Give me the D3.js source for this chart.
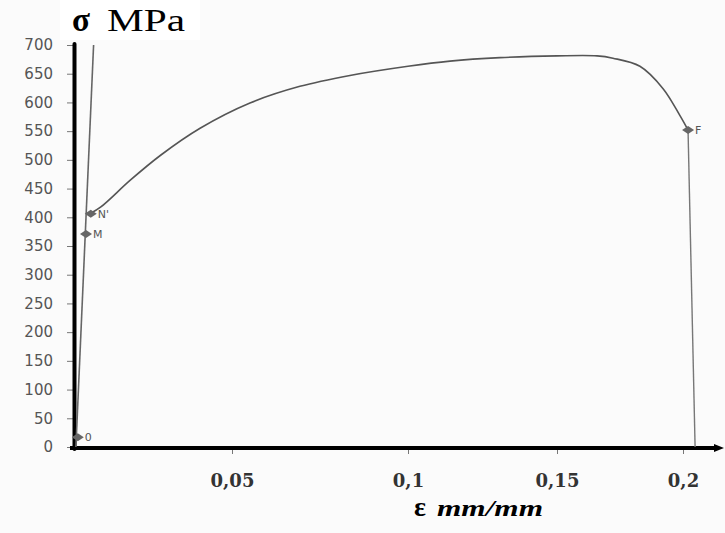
<!DOCTYPE html>
<html>
<head>
<meta charset="utf-8">
<script src="https://cdn.jsdelivr.net/npm/d3@7"></script>
<style>
  body { margin: 0; background: #fbfbfb; }
  svg { display: block; }
</style>
</head>
<body>
<div id="chart"></div>
<script>
// stress (MPa) / strain (mm/mm)
const yTicks = [0, 50, 100, 150, 200, 250, 300, 350, 400, 450, 500, 550, 600, 650, 700]
const xTicks = [0.05, 0.1, 0.15, 0.2]
const xTickLabels = ["0,05", "0,1", "0,15", "0,2"]

const elasticLine = [[0.0006, 0], [0.0062, 700]]

const plasticCurve = [
  [0.0053, 407], [0.0085, 418], [0.0179, 465], [0.0274, 508], [0.0399, 555],
  [0.0551, 599], [0.0693, 628], [0.0835, 647], [0.1, 663], [0.1141, 672],
  [0.1309, 678], [0.15, 681], [0.1659, 681], [0.1722, 677], [0.1829, 663],
  [0.1921, 624], [0.1988, 577], [0.2020, 552]
]

const fractureLine = [[0.2020, 552], [0.2048, 0]]

const markers = [
  {name: "0", strain: 0.0012, stress: 17},
  {name: "M", strain: 0.0038, stress: 371},
  {name: "N'", strain: 0.0053, stress: 406},
  {name: "F", strain: 0.2020, stress: 552}
]

const width = 725, height = 533

const svg = d3.select("#chart").append("svg")
  .attr("width", width)
  .attr("height", height)

// scanned figure: tick spacing is not even, so a piecewise scale
const x = d3.scaleLinear()
  .domain([0, 0.05, 0.1, 0.15, 0.2])
  .range([74, 232, 408, 557, 683])

const y = d3.scaleLinear()
  .domain([0, 700])
  .range([447, 45])

// white patch behind the title
svg.append("rect")
  .attr("x", 60).attr("y", 0)
  .attr("width", 140).attr("height", 40)
  .attr("fill", "#fff")

// y axis
const yAxis = d3.axisLeft(y).tickValues(yTicks).tickSize(6).tickPadding(14)
const gy = svg.append("g")
  .attr("transform", "translate(73,0)")
  .call(yAxis)
gy.select(".domain").remove()
gy.selectAll(".tick line").attr("stroke", "#777").attr("stroke-width", 1)
gy.selectAll(".tick text")
  .attr("fill", "#555")
  .style("font-family", "DejaVu Sans")
  .style("font-size", "15px")

svg.append("line")
  .attr("x1", 74.5).attr("x2", 74.5)
  .attr("y1", y(700) - 1).attr("y2", y(0) + 2)
  .attr("stroke", "#000")
  .attr("stroke-width", 4)
  .attr("stroke-linecap", "round")

// x axis
const xAxis = d3.axisBottom(x).tickValues(xTicks)
  .tickFormat((d, i) => xTickLabels[i]).tickSize(6).tickPadding(20)
const gx = svg.append("g")
  .attr("transform", "translate(0,448)")
  .call(xAxis)
gx.select(".domain").remove()
gx.selectAll(".tick line").attr("stroke", "#777").attr("stroke-width", 1)
gx.selectAll(".tick text")
  .attr("fill", "#333")
  .style("font-family", "DejaVu Serif")
  .style("font-weight", "bold")
  .style("font-size", "18px")

svg.append("line")
  .attr("x1", 70).attr("x2", 716)
  .attr("y1", 448).attr("y2", 448)
  .attr("stroke", "#000")
  .attr("stroke-width", 4)
svg.append("path")
  .attr("d", "M714,444 L724,448 L714,452 Z")
  .attr("fill", "#000")

// curves
const line = d3.line().x(d => x(d[0])).y(d => y(d[1]))

svg.append("path")
  .datum(elasticLine)
  .attr("d", line)
  .attr("fill", "none")
  .attr("stroke", "#666")
  .attr("stroke-width", 1.6)

svg.append("path")
  .datum(plasticCurve)
  .attr("d", d3.line().x(d => x(d[0])).y(d => y(d[1])).curve(d3.curveCatmullRom))
  .attr("fill", "none")
  .attr("stroke", "#555")
  .attr("stroke-width", 1.6)

svg.append("path")
  .datum(fractureLine)
  .attr("d", line)
  .attr("fill", "none")
  .attr("stroke", "#777")
  .attr("stroke-width", 1.4)

// point markers
const mk = svg.selectAll(".marker")
  .data(markers)
  .enter().append("g")
  .attr("class", "marker")
  .attr("transform", d => `translate(${x(d.strain)},${y(d.stress)})`)
mk.append("path")
  .attr("d", "M-6,0 L0,-4 L6,0 L0,4 Z")
  .attr("fill", "#666")
mk.append("text")
  .attr("x", 7)
  .attr("y", 4)
  .attr("fill", "#555")
  .style("font-family", "DejaVu Sans")
  .style("font-size", "11px")
  .text(d => d.name)

// axis titles
svg.append("text")
  .attr("x", 72).attr("y", 31)
  .attr("fill", "#000")
  .style("font-family", "Liberation Serif")
  .style("font-weight", "bold")
  .style("font-size", "33px")
  .text("σ")
svg.append("text")
  .attr("x", 107).attr("y", 31)
  .attr("fill", "#000")
  .attr("textLength", 78)
  .attr("lengthAdjust", "spacingAndGlyphs")
  .style("font-family", "Liberation Serif")
  .style("font-size", "31px")
  .text("MPa")

svg.append("text")
  .attr("x", 414).attr("y", 516)
  .attr("fill", "#000")
  .style("font-family", "Liberation Serif")
  .style("font-weight", "bold")
  .style("font-size", "28px")
  .text("ε")
svg.append("text")
  .attr("x", 437).attr("y", 516)
  .attr("fill", "#000")
  .attr("textLength", 106)
  .attr("lengthAdjust", "spacingAndGlyphs")
  .style("font-family", "Liberation Serif")
  .style("font-weight", "bold")
  .style("font-style", "italic")
  .style("font-size", "24px")
  .text("mm/mm")
</script>
</body>
</html>
